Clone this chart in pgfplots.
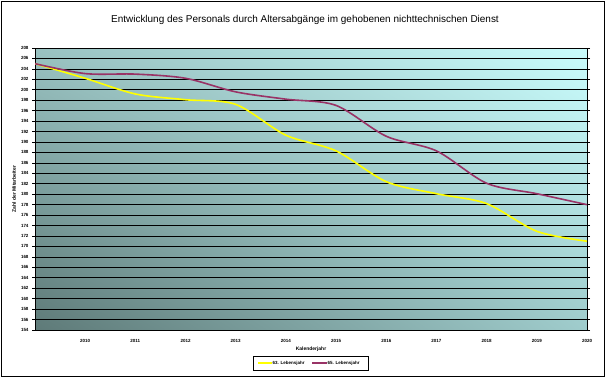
\documentclass[border=0pt]{standalone}
\usepackage{pgfplots}
\pgfplotsset{compat=1.18}
\usetikzlibrary{shadings}
\usepackage{fontspec}
\setmainfont{Liberation Sans}
\definecolor{ylw}{HTML}{FFFF00}
\definecolor{plum}{HTML}{993366}
\definecolor{bgLL}{HTML}{5E7A78}
\definecolor{bgUR}{HTML}{CAFDFD}
\definecolor{bgUL}{HTML}{99C2C1}
\definecolor{bgLR}{HTML}{9FCCCC}
\pgfplotstableread{
year y63 y65
2009 205 205
2010 202.2 203.1
2011 199.2 203.0
2012 198.1 202.2
2013 197.2 199.6
2014 191.3 198.2
2015 188.3 197.0
2016 182.4 191.1
2017 180.1 188.3
2018 178.2 182.1
2019 172.9 180.1
2020 171.0 178.0
}\datatab
\begin{document}
\begin{tikzpicture}[x=1bp,y=1bp]
\useasboundingbox (0,0) rectangle (606,378);
\draw[black,line width=0.8bp] (1.5,1.5) rectangle (604.5,376.5);
\begin{axis}[
  at={(35bp,48bp)}, anchor=south west,
  scale only axis, width=552bp, height=282bp,
  xmin=2009, xmax=2020, ymin=154, ymax=208,
  xtick={2010,2011,...,2020},
  ytick={154,156,...,208},
  ymajorgrids,
  grid style={black, line width=0.7bp},
  axis line style={black, line width=0.8bp},
  x tick label style={font=\fontsize{4.5}{5}\selectfont\bfseries, yshift=-3bp},
  y tick label style={font=\fontsize{4.5}{5}\selectfont\bfseries},
  /pgf/number format/assume math mode=true,
  /pgf/number format/1000 sep={},
  xtick style={draw=none},
  ytick style={black, line width=0.6bp},
  tick align=outside,
  major tick length=3bp,
  axis background/.style={shade, lower left=bgLL, upper right=bgUR, upper left=bgUL, lower right=bgLR},
  clip=true,
]
\addplot[ylw, line width=1.6bp, smooth] table[x=year, y=y63] {\datatab};
\addplot[plum, line width=1.6bp, smooth] table[x=year, y=y65] {\datatab};
\end{axis}
\node[font=\fontsize{10}{12}\selectfont] at (305,358) {Entwicklung des Personals durch Altersabgänge im gehobenen nichttechnischen Dienst};
\node[font=\fontsize{5}{6}\selectfont\bfseries, rotate=90] at (14,189) {Zahl der Mitarbeiter};
\node[font=\fontsize{5}{6}\selectfont\bfseries] at (311,29) {Kalenderjahr};
% legend
\draw[black, line width=0.6bp, fill=white] (253,8) rectangle (368,22);
\draw[ylw, line width=1.6bp] (258,15) -- (272,15);
\node[font=\fontsize{4.5}{5}\selectfont\bfseries, anchor=west, inner sep=0.5bp] at (272,15) {63. Lebensjahr};
\draw[plum, line width=1.6bp] (312,15) -- (327,15);
\node[font=\fontsize{4.5}{5}\selectfont\bfseries, anchor=west, inner sep=0.5bp] at (327,15) {65. Lebensjahr};
\end{tikzpicture}
\end{document}
